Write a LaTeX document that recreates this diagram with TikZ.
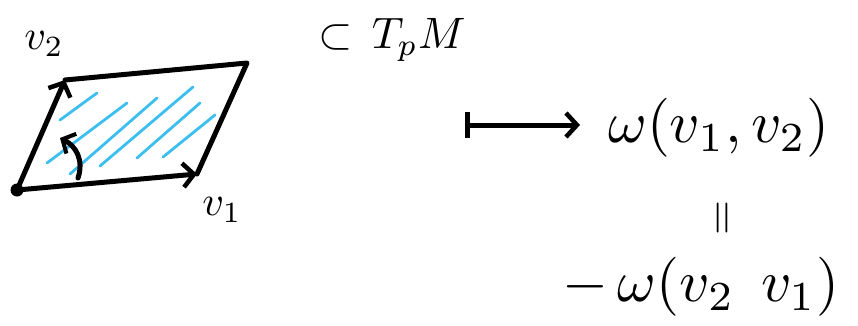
\documentclass[tikz,border=0pt]{standalone}
\usetikzlibrary{arrows.meta}
\definecolor{hatch}{RGB}{60,190,240}
\begin{document}
\begin{tikzpicture}[x=1pt,y=-1pt,
  ink/.style={line width=5pt,line cap=round,line join=round,black},
  barb/.style={-{Straight Barb[length=11pt,width=24pt,line width=4.5pt]}},
  hatchline/.style={line width=2.8pt,line cap=round,hatch},
  lab/.style={inner sep=0pt,anchor=center}]
\useasboundingbox (0,0) rectangle (858,325);
% corners
\coordinate (O) at (17,190);
\coordinate (A) at (197,174);
\coordinate (B) at (65,80);
\coordinate (C) at (247,63);
% hatching
\draw[hatchline] (60,120) -- (97,93);
\draw[hatchline] (47,163) -- (127,103);
\draw[hatchline] (70,174) -- (157,98);
\draw[hatchline] (100,166) -- (193,87);
\draw[hatchline] (137,158) -- (200,103);
\draw[hatchline] (163,157) -- (215,115);
% parallelogram
\draw[ink] (B) -- (C) -- (A);
\draw[ink,barb] (O) -- (A);
\draw[ink,barb] (O) -- (B);
\fill (O) circle (6.5);
% orientation arrow
\coordinate (r0) at (78,178);
\coordinate (r1) at (60,138);
\draw[ink,-{Straight Barb[length=10pt,width=22pt,line width=4pt]}] (r0) .. controls (84,160) and (76,146) .. (r1);
% labels
\node[lab] (v2) at (44,44) {\scalebox{4.2}{$v_2$}};
\node[lab] (v1) at (222,210) {\scalebox{4.2}{$v_1$}};
\node[lab,anchor=west] (tpm) at (318,40) {\scalebox{4.4}{$\subset\, T_pM$}};
% maps to
\coordinate (m0) at (465,125);
\coordinate (m1) at (580,125);
\draw[ink,{Bar[width=26pt,line width=4.5pt]}-{Straight Barb[length=11pt,width=24pt,line width=4.5pt]}] (m0) -- (m1);
\node[lab,anchor=west] (w1) at (608,128) {\scalebox{5.9}{$\omega(v_1, v_2)$}};
\node[lab] (eq) at (725,218) {\rotatebox{90}{\scalebox{4.5}{$=$}}};
\node[lab,anchor=west] (w2) at (562,287) {\scalebox{5.9}{$-\,\omega(v_2\;\,v_1)$}};
\end{tikzpicture}
\end{document}
